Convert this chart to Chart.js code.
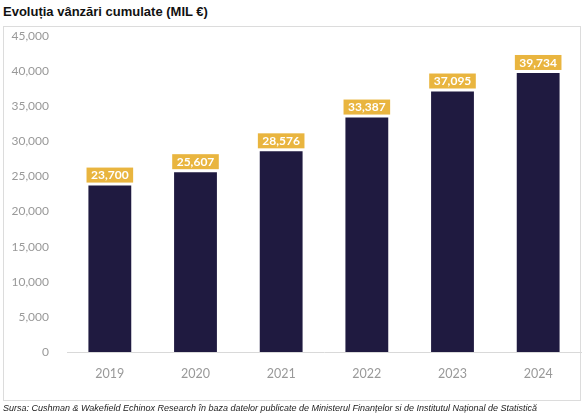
<!DOCTYPE html>
<html>
<head>
  <title>Evoluția vânzări cumulate</title>
  <style>
    body { margin: 0; background: #fff; }
    #wrap { position: relative; width: 585px; height: 418px; overflow: hidden; }
    #title { position: absolute; left: 3px; top: 4px; font: bold 13px "Liberation Sans", Arial, sans-serif; color: #111; white-space: nowrap; }
    #box { position: absolute; left: 3px; top: 26px; width: 576px; height: 373px; border: 1px solid #dcdcdc; }
    #source { position: absolute; left: 3px; top: 403px; font: italic 9px "Liberation Sans", Arial, sans-serif; color: #222; white-space: nowrap; }
    canvas { position: absolute; left: 0; top: 0; }
  </style>
</head>
<body>
<div id="wrap">
  <div id="title">Evoluția vânzări cumulate (MIL €)</div>
  <div id="box"></div>
  <canvas id="salesChart" width="585" height="418"></canvas>
  <div id="source">Sursa: Cushman &amp; Wakefield Echinox Research în baza datelor publicate de Ministerul Finanțelor si de Institutul Național de Statistică</div>
</div>

<script src="https://cdn.jsdelivr.net/npm/chart.js"></script>
<script>
  const years = ['2019', '2020', '2021', '2022', '2023', '2024'];
  const sales = [23700, 25607, 28576, 33387, 37095, 39734];
  const yTicks = [0, 5000, 10000, 15000, 20000, 25000, 30000, 35000, 40000, 45000];

  const barColor = '#1f1a40';
  const labelColor = '#e9b53f';

  // gold value boxes above each bar
  const valueBoxes = {
    id: 'valueBoxes',
    afterDatasetsDraw(chart) {
      const ctx = chart.ctx;
      const meta = chart.getDatasetMeta(0);
      ctx.save();
      ctx.font = 'bold 12px Lato, sans-serif';
      ctx.textAlign = 'center';
      ctx.textBaseline = 'middle';
      meta.data.forEach((bar, i) => {
        const text = sales[i].toLocaleString('en-US');
        const w = ctx.measureText(text).width + 9;
        const h = 15;
        const bottom = bar.y - 3;
        ctx.fillStyle = labelColor;
        ctx.fillRect(bar.x - w / 2, bottom - h, w, h);
        ctx.fillStyle = '#fff';
        ctx.fillText(text, bar.x, bottom - h / 2 + 0.5);
      });
      ctx.restore();
    }
  };

  new Chart(document.getElementById('salesChart'), {
    type: 'bar',
    data: {
      labels: years,
      datasets: [{
        data: sales,
        backgroundColor: barColor,
        categoryPercentage: 1,
        barPercentage: 0.5
      }]
    },
    options: {
      responsive: false,
      animation: false,
      layout: { padding: { left: 0, right: 4, top: 36, bottom: 0 } },
      plugins: {
        legend: { display: false },
        tooltip: { enabled: false }
      },
      scales: {
        x: {
          grid: { display: false },
          border: { display: true, color: '#d9d9d9', width: 1 },
          ticks: { color: '#999999', font: { family: 'Lato', size: 12.5 }, padding: 6 },
          afterFit(scale) { scale.height = 66; }
        },
        y: {
          min: 0,
          max: 45000,
          grid: { display: false },
          border: { display: false },
          afterBuildTicks(scale) { scale.ticks = yTicks.map(v => ({ value: v })); },
          ticks: {
            color: '#999999',
            font: { family: 'Lato', size: 12 },
            padding: 10,
            callback: v => v.toLocaleString('en-US')
          },
          afterFit(scale) { scale.width = 67; }
        }
      }
    },
    plugins: [valueBoxes]
  });
</script>
</body>
</html>
